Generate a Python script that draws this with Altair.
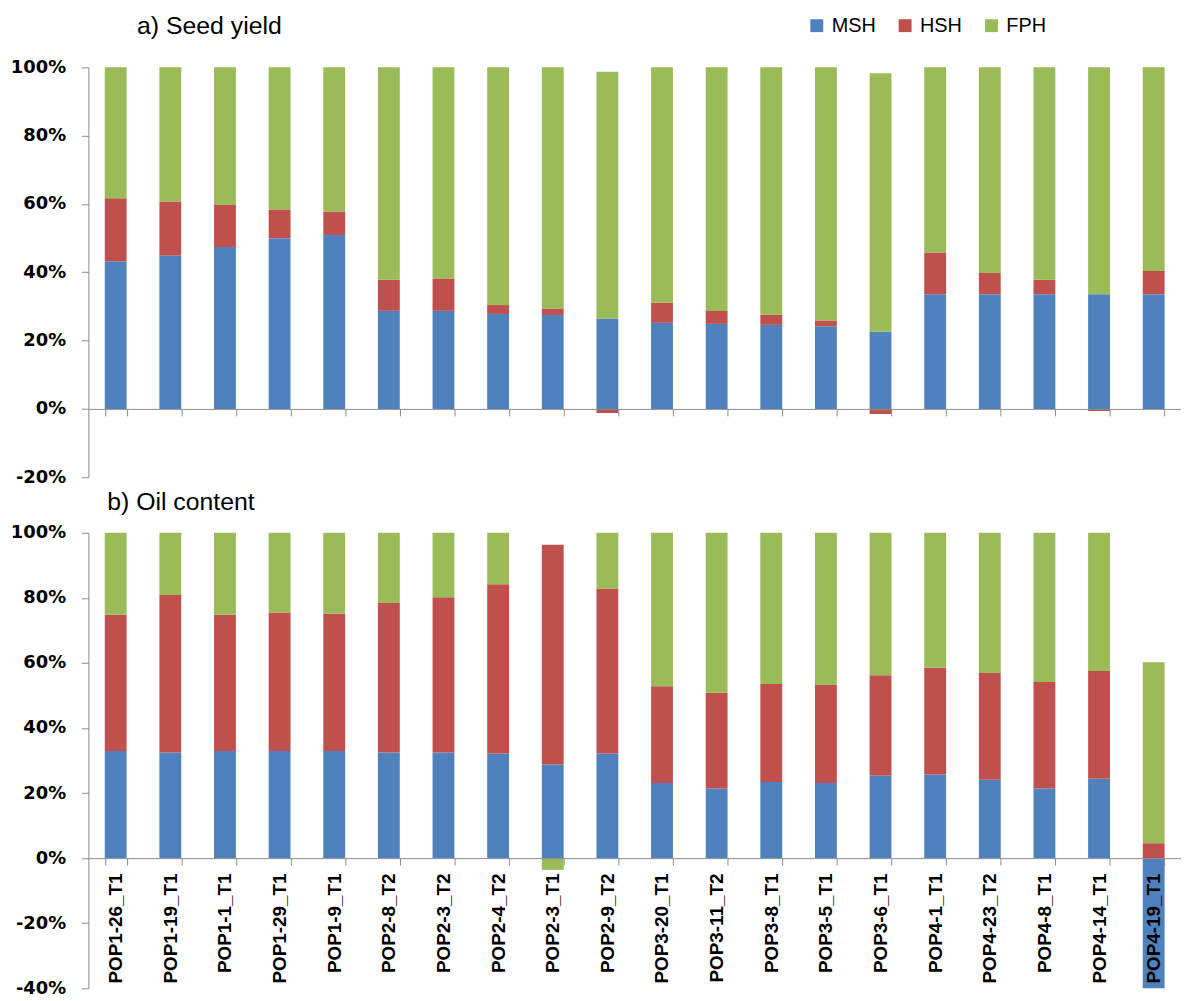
import altair as alt
import pandas as pd

categories = ["POP1-26_T1", "POP1-19_T1", "POP1-1_T1", "POP1-29_T1", "POP1-9_T1",
              "POP2-8_T2", "POP2-3_T2", "POP2-4_T2", "POP2-3_T1", "POP2-9_T2",
              "POP3-20_T1", "POP3-11_T2", "POP3-8_T1", "POP3-5_T1", "POP3-6_T1",
              "POP4-1_T1", "POP4-23_T2", "POP4-8_T1", "POP4-14_T1", "POP4-19_T1"]
components = ["MSH", "HSH", "FPH"]
colors = ["#4F81BD", "#C0504D", "#9BBB59"]

# a) Seed yield (percent)
seed_msh = [43.2, 44.9, 47.4, 50.0, 50.9, 28.7, 28.7, 27.8, 27.5, 26.5,
            25.2, 24.9, 24.6, 24.2, 22.6, 33.6, 33.6, 33.6, 33.6, 33.6]
seed_hsh = [18.5, 15.8, 12.3, 8.4, 6.9, 9.1, 9.5, 2.6, 1.9, -1.2,
            5.9, 3.8, 3.0, 1.7, -1.5, 12.2, 6.2, 4.2, -0.6, 6.8]
seed_fph = [38.3, 39.3, 40.3, 41.6, 42.2, 62.2, 61.8, 69.6, 70.6, 72.2,
            68.9, 71.3, 72.4, 74.1, 75.7, 54.2, 60.2, 62.2, 66.4, 59.6]

# b) Oil content (percent)
oil_msh = [32.9, 32.5, 32.9, 32.9, 32.9, 32.5, 32.5, 32.2, 28.8, 32.2,
           23.1, 21.4, 23.4, 23.1, 25.4, 25.7, 24.1, 21.4, 24.4, -40.0]
oil_hsh = [41.9, 48.4, 41.9, 42.6, 42.3, 45.9, 47.7, 52.0, 67.5, 50.7,
           29.7, 29.4, 30.1, 30.1, 30.8, 32.8, 32.8, 32.7, 33.1, 4.6]
oil_fph = [25.2, 19.1, 25.2, 24.5, 24.8, 21.6, 19.8, 15.8, -3.6, 17.1,
           47.2, 49.2, 46.5, 46.8, 43.8, 41.5, 43.1, 45.9, 42.5, 55.6]

a_ticks = [-0.2, 0, 0.2, 0.4, 0.6, 0.8, 1.0]
b_ticks = [-0.4, -0.2, 0, 0.2, 0.4, 0.6, 0.8, 1.0]


def make_df(m, h, f):
    rows = []
    for i, c in enumerate(categories):
        for k, (name, vals) in enumerate(zip(components, [m, h, f])):
            rows.append({"cat": c, "comp": name, "ord": k, "val": vals[i] / 100.0})
    return pd.DataFrame(rows)


GREY = "#8c8c8c"
W = 1101

legend = alt.Legend(orient="none", legendX=724, legendY=-52, direction="horizontal",
                    title=None, symbolType="square", symbolSize=169,
                    symbolStrokeWidth=0, labelFont="Liberation Sans",
                    labelFontSize=20, labelColor="black", labelOffset=5,
                    columnPadding=19)


def panel(df, title, dx, toff, height, ymin, yticks, show_labels):
    zero_off = -(height * (-ymin) / (1 - ymin))
    xaxis_kw = dict(title=None, tickBand="extent", tickSize=7, tickColor=GREY,
                    domainColor=GREY, offset=zero_off, zindex=1)
    if show_labels:
        xaxis_kw.update(labelAngle=-90, labelAlign="right", labelBaseline="middle",
                        labelPadding=8, labelFont="Liberation Sans",
                        labelFontWeight="bold", labelFontSize=19, labelColor="black")
    else:
        xaxis_kw.update(labels=False)
    return alt.Chart(df).mark_bar().encode(
        x=alt.X("cat:N", sort=categories,
                scale=alt.Scale(paddingInner=0.6, paddingOuter=0.3),
                axis=alt.Axis(**xaxis_kw)),
        y=alt.Y("val:Q", stack="zero",
                scale=alt.Scale(domain=[ymin, 1.0], nice=False, zero=False),
                axis=alt.Axis(title=None, format=".0%", values=yticks, grid=False,
                              labelExpr="replace(datum.label, '\u2212', '-')",
                              tickSize=7, tickColor=GREY, domainColor=GREY,
                              labelPadding=16, labelFont="DejaVu Sans",
                              labelFontWeight="bold", labelFontSize=18,
                              labelColor="black")),
        color=alt.Color("comp:N", scale=alt.Scale(domain=components, range=colors),
                        legend=legend),
        order=alt.Order("ord:Q", sort="ascending"),
    ).properties(
        width=W, height=height,
        title=alt.TitleParams(title, anchor="start", frame="group", dx=dx,
                              offset=toff, font="Liberation Sans", fontSize=25,
                              fontWeight="normal", color="black"),
    )


top = panel(make_df(seed_msh, seed_hsh, seed_fph), "a) Seed yield", 49, 20,
            413, -0.2, a_ticks, False)
bottom = panel(make_df(oil_msh, oil_hsh, oil_fph), "b) Oil content", 19, 9,
               459, -0.4, b_ticks, True)

chart = alt.vconcat(top, bottom, spacing=4).properties(
    padding={"left": 2, "top": 2, "right": 0, "bottom": 0}
).configure_view(stroke=None)

chart.save("out.html", embed_options={"renderer": "svg", "actions": False})
